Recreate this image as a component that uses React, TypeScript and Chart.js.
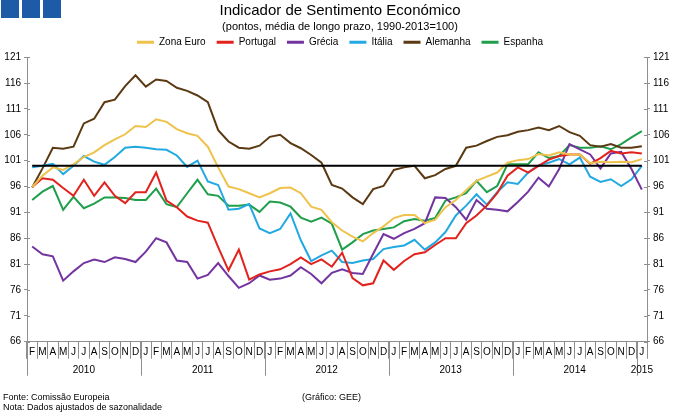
import React, { useEffect, useRef } from 'react';
import { Chart, registerables } from 'chart.js';

Chart.register(...registerables);

const FONT = '"Liberation Sans", Arial, sans-serif';

const monthLetters = ['J', 'F', 'M', 'A', 'M', 'J', 'J', 'A', 'S', 'O', 'N', 'D'];
const categories = [
  ...monthLetters.slice(1),
  ...monthLetters,
  ...monthLetters,
  ...monthLetters,
  ...monthLetters,
  'J',
];
const years = ['2010', '2011', '2012', '2013', '2014', '2015'];
const yearSpans = [11, 12, 12, 12, 12, 1];

const zonaEuro = [
  95.9, 98.1, 99.7, 99.2, 100.3, 101.7, 102.6, 104.0, 105.1, 106.1, 107.7,
  107.5, 109.0, 108.5, 107.1, 106.3, 105.8, 103.7, 99.7, 96.0, 95.5, 94.7, 93.9,
  94.7, 95.7, 95.8, 94.7, 92.1, 91.5, 89.1, 87.5, 86.3, 85.4, 87.0, 88.3, 89.9,
  90.5, 90.5, 88.9, 89.6, 92.0, 93.4, 95.3, 97.1, 97.9, 98.7, 100.6, 101.1,
  101.3, 102.3, 102.0, 102.6, 102.2, 102.2, 100.5, 100.8, 100.7, 100.8, 100.7,
  101.3,
];
const portugal = [
  95.9, 97.6, 97.3, 95.7, 94.2, 97.3, 94.2, 96.8, 94.2, 92.8, 94.9,
  94.9, 98.7, 93.3, 92.0, 90.2, 89.4, 89.0, 84.3, 79.8, 83.8, 78.0, 79.0,
  79.6, 80.0, 81.0, 82.3, 81.0, 81.9, 80.5, 83.2, 78.3, 76.9, 77.3, 81.7, 79.9,
  81.6, 82.9, 83.3, 84.7, 86.0, 86.0, 88.9, 90.4, 92.3, 94.7, 98.1, 99.7,
  98.7, 100.0, 101.2, 101.9, 102.2, 102.2, 100.4, 101.5, 102.9, 102.4, 102.6,
  102.4,
];
const grecia = [
  84.4, 82.9, 82.5, 77.8, 79.6, 81.2, 81.9, 81.4, 82.3, 82.0, 81.4,
  83.4, 86.0, 85.2, 81.7, 81.4, 78.2, 78.9, 81.2, 78.7, 76.4, 77.3, 78.8,
  78.0, 78.2, 78.8, 80.4, 79.1, 77.3, 79.3, 80.0, 79.3, 79.1, 83.0, 86.8, 85.9,
  87.0, 87.8, 88.9, 93.9, 93.8, 92.0, 89.6, 93.4, 91.7, 91.5, 91.2, 93.0,
  95.0, 97.7, 96.0, 99.4, 104.2, 103.2, 102.2, 99.5, 102.4, 102.7, 99.4,
  95.4,
];
const italia = [
  99.7, 100.0, 100.4, 98.4, 100.0, 101.9, 100.8, 100.2, 101.7, 103.5, 103.7,
  103.5, 103.2, 103.1, 102.0, 99.8, 101.0, 97.0, 96.3, 91.5, 91.7, 92.6, 87.9,
  87.0, 87.8, 90.8, 85.6, 81.6, 82.7, 83.6, 81.4, 81.2, 81.7, 82.0, 83.9, 84.3,
  84.6, 85.7, 83.8, 85.2, 87.2, 90.4, 92.3, 94.5, 92.5, 94.9, 96.8, 96.5,
  98.7, 100.1, 100.6, 101.3, 100.3, 101.6, 97.9, 96.9, 97.4, 96.1, 97.4,
  100.0,
];
const alemanha = [
  95.8, 99.5, 103.5, 103.3, 103.7, 108.2, 109.1, 112.3, 112.8, 115.4, 117.5,
  115.3, 116.7, 116.4, 115.1, 114.5, 113.6, 112.3, 106.9, 104.7, 103.5, 103.3, 103.9,
  105.6, 106.0, 104.4, 103.4, 102.1, 100.6, 96.3, 95.6, 93.9, 92.6, 95.5, 96.1, 99.2,
  99.7, 100.0, 97.6, 98.2, 99.4, 100.0, 103.5, 103.9, 104.8, 105.6, 105.9, 106.6,
  106.9, 107.4, 106.9, 107.7, 106.5, 105.8, 104.0, 103.7, 104.2, 103.5, 103.5,
  103.8,
];
const espanha = [
  93.4, 95.0, 96.1, 91.5, 94.0, 91.8, 92.7, 93.9, 93.9, 93.8, 93.4,
  93.4, 95.6, 92.6, 92.0, 94.7, 97.3, 94.5, 94.2, 92.3, 92.3, 92.5, 91.1,
  93.1, 92.9, 92.1, 90.0, 89.2, 90.0, 88.8, 83.8, 85.2, 86.8, 87.5, 87.8, 88.1,
  89.3, 89.7, 89.4, 89.9, 93.3, 93.9, 94.7, 97.1, 94.9, 96.1, 100.3, 100.3,
  100.3, 102.6, 101.5, 101.9, 104.0, 103.5, 103.5, 103.8, 103.2, 104.2, 105.5,
  106.7,
];
const longTermAverage = 100;

const yMin = 66;
const yMax = 121;
const yStep = 5;

const series = [
  { label: 'Zona Euro', data: zonaEuro, color: '#efc24c' },
  { label: 'Portugal', data: portugal, color: '#e2221d' },
  { label: 'Grécia', data: grecia, color: '#7334a0' },
  { label: 'Itália', data: italia, color: '#23a9e1' },
  { label: 'Alemanha', data: alemanha, color: '#5b3912' },
  { label: 'Espanha', data: espanha, color: '#1f9e4b' },
];

const axisGray = '#8e8e8e';

const extraAxisPlugin = {
  id: 'extraAxis',
  afterDraw(chart: any) {
    const { ctx } = chart;
    const xs = chart.scales.x;
    const ys = chart.scales.y;
    const ys2 = chart.scales.y2;
    const cw = (xs.right - xs.left) / categories.length;
    ctx.save();
    ctx.strokeStyle = axisGray;
    ctx.lineWidth = 1;
    ctx.font = `10px ${FONT}`;
    ctx.fillStyle = '#000';
    ctx.textAlign = 'center';
    ctx.textBaseline = 'middle';
    let start = 0;
    years.forEach((yr, k) => {
      const x0 = Math.round(xs.left + start * cw) + 0.5;
      ctx.beginPath();
      ctx.moveTo(x0, xs.top);
      ctx.lineTo(x0, xs.top + 34);
      ctx.stroke();
      ctx.fillText(yr, xs.left + (start + yearSpans[k] / 2) * cw, xs.top + 28.5);
      start += yearSpans[k];
    });
    ctx.beginPath();
    ys.ticks.forEach((t: any) => {
      const y = Math.round(ys.getPixelForValue(t.value)) + 0.5;
      ctx.moveTo(ys.right, y);
      ctx.lineTo(ys.right + 3, y);
    });
    ys2.ticks.forEach((t: any) => {
      const y = Math.round(ys2.getPixelForValue(t.value)) + 0.5;
      ctx.moveTo(ys2.left, y);
      ctx.lineTo(ys2.left - 3, y);
    });
    ctx.stroke();
    ctx.restore();
  },
};

export default function App() {
  const canvasRef = useRef<HTMLCanvasElement | null>(null);

  useEffect(() => {
    document.body.style.margin = '0';
    const canvas = canvasRef.current;
    if (!canvas) return;

    const datasets: any[] = [
      {
        label: 'Média de longo prazo',
        data: categories.map(() => longTermAverage),
        borderColor: '#000000',
        backgroundColor: '#000000',
        borderWidth: 2,
        pointRadius: 0,
        tension: 0,
        order: 0,
        yAxisID: 'y',
      },
      ...series.map((s) => ({
        label: s.label,
        data: s.data,
        borderColor: s.color,
        backgroundColor: s.color,
        borderWidth: 2,
        pointRadius: 0,
        tension: 0,
        order: 1,
        yAxisID: 'y',
      })),
    ];

    const yTickCommon = {
      font: { size: 10, family: FONT },
      color: '#000',
      stepSize: yStep,
      padding: 3,
    };

    const defaultLabels = (Chart as any).defaults.plugins.legend.labels.generateLabels;

    const chart = new Chart(canvas, {
      type: 'line',
      data: { labels: categories, datasets },
      plugins: [extraAxisPlugin],
      options: {
        animation: false,
        responsive: true,
        maintainAspectRatio: false,
        layout: { padding: 0 },
        plugins: {
          title: {
            display: true,
            text: 'Indicador de Sentimento Económico',
            color: '#000',
            font: { size: 15, family: FONT, weight: 'normal', lineHeight: 1.2 },
            padding: { top: 2, bottom: 0 },
          },
          subtitle: {
            display: true,
            text: '(pontos, média de longo prazo, 1990-2013=100)',
            color: '#000',
            font: { size: 11, family: FONT, weight: 'normal', lineHeight: 1.2 },
            padding: { top: 0, bottom: -7 },
          },
          legend: {
            display: true,
            position: 'top',
            labels: {
              filter: (item: any) => item.datasetIndex !== 0,
              generateLabels: (c: any) =>
                defaultLabels(c).map((it: any) => ({ ...it, lineWidth: 3 })),
              color: '#000',
              font: { size: 10, family: FONT },
              usePointStyle: true,
              pointStyle: 'line',
              pointStyleWidth: 17,
              padding: 11,
            },
          },
          tooltip: { enabled: false },
        },
        scales: {
          x: {
            type: 'category',
            offset: true,
            grid: {
              display: true,
              offset: true,
              drawOnChartArea: false,
              drawTicks: true,
              tickLength: 17,
              color: axisGray,
            },
            border: { display: true, color: axisGray, width: 1 },
            ticks: {
              autoSkip: false,
              maxRotation: 0,
              minRotation: 0,
              font: { size: 10, family: FONT },
              color: '#000',
              padding: -12,
            },
            afterFit: (scale: any) => {
              scale.height = 72.3;
            },
          },
          y: {
            type: 'linear',
            position: 'left',
            min: yMin,
            max: yMax,
            grid: {
              display: true,
              drawOnChartArea: false,
              drawTicks: true,
              tickLength: 3,
              color: axisGray,
            },
            border: { display: true, color: axisGray, width: 1 },
            ticks: yTickCommon,
            afterFit: (scale: any) => {
              scale.width = 27;
            },
          },
          y2: {
            type: 'linear',
            position: 'right',
            min: yMin,
            max: yMax,
            grid: {
              display: true,
              drawOnChartArea: false,
              drawTicks: true,
              tickLength: 3,
              color: axisGray,
            },
            border: { display: true, color: axisGray, width: 1 },
            ticks: yTickCommon,
            afterFit: (scale: any) => {
              scale.width = 33;
            },
          },
        },
      } as any,
    });

    return () => {
      chart.destroy();
    };
  }, []);

  const square = (left: number): React.CSSProperties => ({
    position: 'absolute',
    left,
    top: 0,
    width: 18,
    height: 18,
    background: '#1d5ba6',
  });

  const footText: React.CSSProperties = {
    position: 'absolute',
    fontFamily: FONT,
    fontSize: 9,
    lineHeight: '10px',
    color: '#000',
    whiteSpace: 'nowrap',
  };

  return (
    <div
      style={{
        position: 'relative',
        width: 680,
        height: 414,
        background: '#fff',
        overflow: 'hidden',
      }}
    >
      <div style={{ position: 'absolute', left: 0, top: 0, width: 680, height: 414 }}>
        <canvas ref={canvasRef} />
      </div>
      <div style={square(1)} />
      <div style={square(22)} />
      <div style={square(43)} />
      <div style={{ ...footText, left: 3, top: 392 }}>Fonte: Comissão Europeia</div>
      <div style={{ ...footText, left: 3, top: 402 }}>Nota: Dados ajustados de sazonalidade</div>
      <div style={{ ...footText, left: 302, top: 392 }}>(Gráfico: GEE)</div>
    </div>
  );
}
